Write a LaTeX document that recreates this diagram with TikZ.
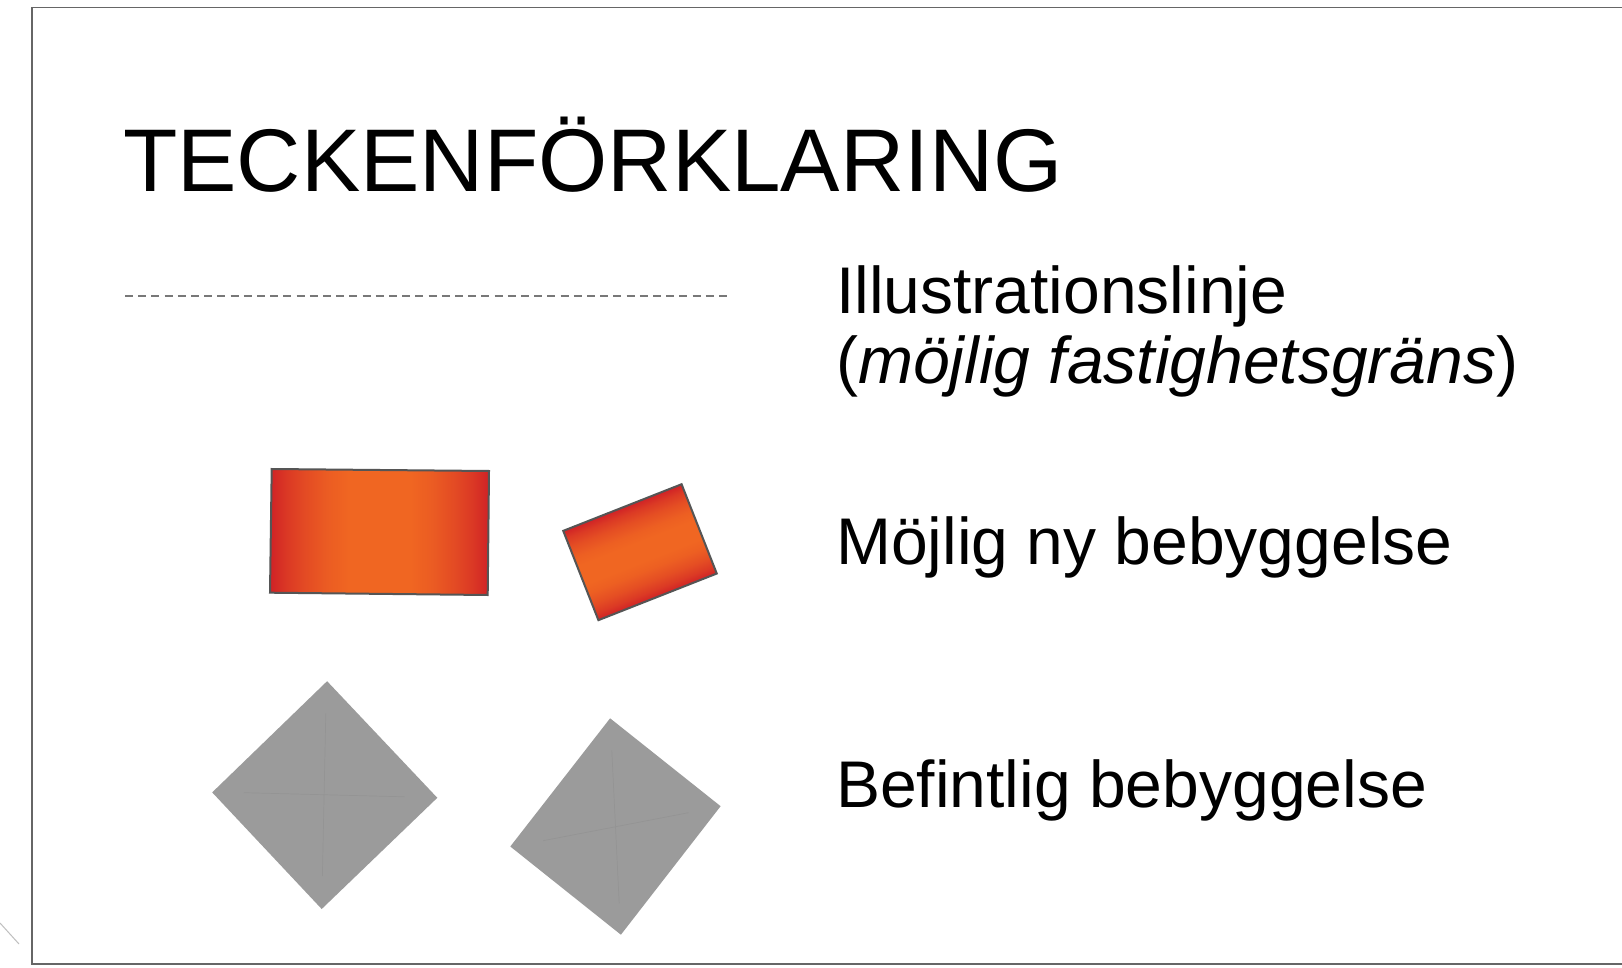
\documentclass[tikz,border=0pt]{standalone}
\usepackage{fontspec}
\setmainfont{Liberation Sans}
\definecolor{frame}{HTML}{666666}
\definecolor{dashgray}{HTML}{787878}
\definecolor{rred}{RGB}{208,34,38}
\definecolor{rorange}{RGB}{240,102,34}
\definecolor{edge}{HTML}{555555}
\definecolor{bldgray}{HTML}{9B9B9B}
\definecolor{xgray}{HTML}{949494}
\pgfdeclarehorizontalshading{bandh}{100bp}{%
  color(0bp)=(rred); color(25bp)=(rred); color(29bp)=(rred!65!rorange);
  color(33bp)=(rred!40!rorange); color(38bp)=(rred!15!rorange);
  color(43bp)=(rorange); color(57bp)=(rorange);
  color(62bp)=(rred!15!rorange); color(67bp)=(rred!40!rorange);
  color(71bp)=(rred!65!rorange);
  color(75bp)=(rred); color(100bp)=(rred)}
\pgfdeclareverticalshading{bandv}{100bp}{%
  color(0bp)=(rred); color(25bp)=(rred); color(29bp)=(rred!65!rorange);
  color(34bp)=(rred!35!rorange); color(40bp)=(rred!10!rorange);
  color(45bp)=(rorange); color(55bp)=(rorange);
  color(60bp)=(rred!10!rorange); color(66bp)=(rred!35!rorange);
  color(71bp)=(rred!65!rorange);
  color(75bp)=(rred); color(100bp)=(rred)}
\begin{document}
\begin{tikzpicture}[x=1pt,y=-1pt,
  label/.style={anchor=base west, inner sep=0pt, font=\fontsize{66}{70}\selectfont},
  newbld/.style={draw=edge, line width=2pt, line join=miter},
  oldbld/.style={fill=bldgray, draw=none},
  xline/.style={draw=xgray, line width=0.7pt}]
\useasboundingbox (0,0) rectangle (1622,968);
\fill[white] (0,0) rectangle (1622,968);
% frame
\draw[frame, line width=1.6pt] (1640,7.5) -- (32,7.5) -- (32,964) -- (1640,964);
\draw[black!25, line width=1pt] (0,923) -- (19,944);
% title
\node[anchor=base west, inner sep=0pt, font=\fontsize{89}{95}\selectfont] (title) at (123,191.5) {TECKENFÖRKLARING};
% dashed line
\coordinate (dA) at (123,296);
\coordinate (dB) at (729,296);
\draw[dashgray, line width=1.6pt, dash pattern=on 8pt off 5.2pt, dash phase=-2pt] (dA) -- (dB);
\node[label] (l1) at (836,313.5) {Illustrationslinje};
\node[label] (l2) at (836,383) {(\textit{möjlig fastighetsgräns})};
% new buildings
\shade[shading=bandh]
  (271.7,469) -- (489,471) -- (487.7,595) -- (270,592.7) -- cycle;
\draw[newbld] (271.7,469) -- (489,471) -- (487.7,595) -- (270,592.7) -- cycle;
\begin{scope}[transform canvas={shift={(640,552.2)}, rotate=21.5}]
  \shade[shading=bandv] (-63.6,-48) rectangle (63.6,48);
  \draw[newbld] (-63.6,-48) rectangle (63.6,48);
\end{scope}
\node[label] (l3) at (836,564) {Möjlig ny bebyggelse};
% existing buildings
\fill[oldbld] (327.1,681.2) -- (437.3,797.8) -- (321.7,909) -- (212.2,792.4) -- cycle;
\draw[xline] (325.8,713.3) -- (322.4,876.2);
\draw[xline] (244,792.7) -- (404.5,796.8);
\fill[oldbld] (610.1,718.3) -- (720.6,806.2) -- (620.9,934.7) -- (510.3,846.5) -- cycle;
\draw[xline] (611.8,750.5) -- (619.2,903.3);
\draw[xline] (543.1,840.7) -- (688.5,812.7);
\node[label] (l4) at (836,807) {Befintlig bebyggelse};
\end{tikzpicture}
\end{document}
